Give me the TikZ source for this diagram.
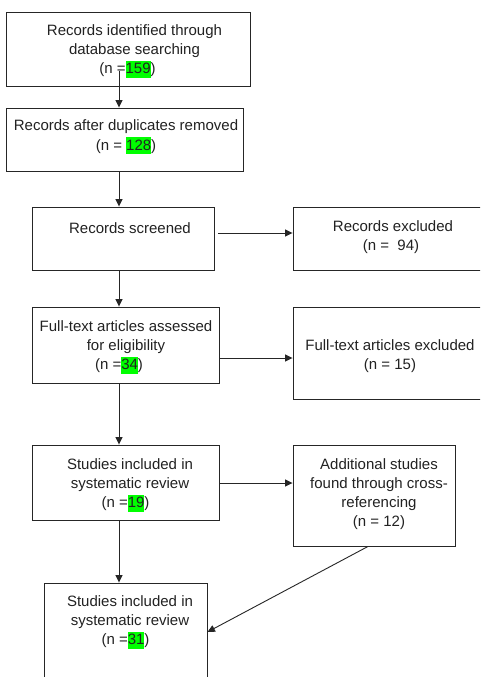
\documentclass[tikz,border=0pt]{standalone}
\usepackage{fontspec}
\setmainfont{Liberation Sans}
\usetikzlibrary{arrows.meta,calc}
\definecolor{hlgreen}{RGB}{0,255,0}
\definecolor{txt}{RGB}{34,34,34}
\newcommand\hlg[1]{{\setlength{\fboxsep}{0pt}\colorbox{hlgreen}{\rule[-3.8pt]{0pt}{17pt}#1}}}
\begin{document}
\begin{tikzpicture}[x=1pt,y=-1pt,
  box/.style={draw=black!85,line width=0.9pt,inner sep=0pt,fill=none},
  lbl/.style={text=txt,align=center,inner sep=0pt,font=\fontsize{15}{19.2}\selectfont},
  arr/.style={draw=black!85,line width=0.9pt,-{Triangle[length=7.5pt,width=7pt]}}]
\useasboundingbox (0,0) rectangle (480,677);
\clip (0,0) rectangle (480,677);
\fill[white] (0,0) rectangle (480,677);
% boxes
\node[box,minimum width=244,minimum height=74] (b1) at (128,49) {};
\node[box,minimum width=237,minimum height=63] (b2) at (124.5,139.5) {};
\node[box,minimum width=182,minimum height=63] (b3) at (123,238.5) {};
\node[box,minimum width=207,minimum height=63] (b4) at (396.5,238.5) {};
\node[box,minimum width=187,minimum height=76] (b5) at (125.5,345) {};
\node[box,minimum width=207,minimum height=92] (b6) at (396.5,353) {};
\node[box,minimum width=187,minimum height=75] (b7) at (125.5,482.5) {};
\node[box,minimum width=162,minimum height=101] (b8) at (374,495.5) {};
\node[box,minimum width=163,minimum height=130] (b9) at (125.5,648) {};
% texts
\node[lbl] (t1) at (134.5,51) {Records identified through\\database searching\\(n =\hlg{159})\hspace*{14pt}};
\node[lbl] (t2) at (126,137) {Records after duplicates removed\\(n = \hlg{128})};
\node[lbl] (t3) at (130,228) {Records screened};
\node[lbl] (t4) at (393,237.5) {Records excluded\\(n = \ 94)\hspace*{4pt}};
\node[lbl] (t5) at (126,347) {Full-text articles assessed\\for eligibility\hspace*{16pt}\\(n =\hlg{34})\hspace*{14pt}};
\node[lbl] (t6) at (390,356) {Full-text articles excluded\\(n = 15)};
\node[lbl] (t7) at (130,485) {Studies included in\\systematic review\\(n =\hlg{19})\hspace*{9pt}};
\node[lbl] (t8) at (379,494) {Additional studies\\found through cross-\\referencing\\(n = 12)};
\node[lbl] (t9) at (130,622) {Studies included in\\systematic review\\(n =\hlg{31})\hspace*{9pt}};
% connectors
\coordinate (ax) at (119,0);
\coordinate (s1) at (119,71);
\coordinate (r1) at (0,233);
\coordinate (r2) at (0,358);
\coordinate (r3) at (0,483);
\coordinate (r4) at (0,632);
\draw[arr] (s1) -- (b2.north -| ax);
\draw[arr] (b2.south -| ax) -- (b3.north -| ax);
\draw[arr] (b3.south -| ax) -- (b5.north -| ax);
\draw[arr] (b5.south -| ax) -- (b7.north -| ax);
\draw[arr] (b7.south -| ax) -- (b9.north -| ax);
\draw[arr] ($(b3.east |- r1)+(4,0)$) -- (b4.west |- r1);
\draw[arr] (b5.east |- r2) -- (b6.west |- r2);
\draw[arr] (b7.east |- r3) -- (b8.west |- r3);
\draw[arr] ($(b8.south)+(-6,0)$) -- (b9.east |- r4);
\end{tikzpicture}
\end{document}
